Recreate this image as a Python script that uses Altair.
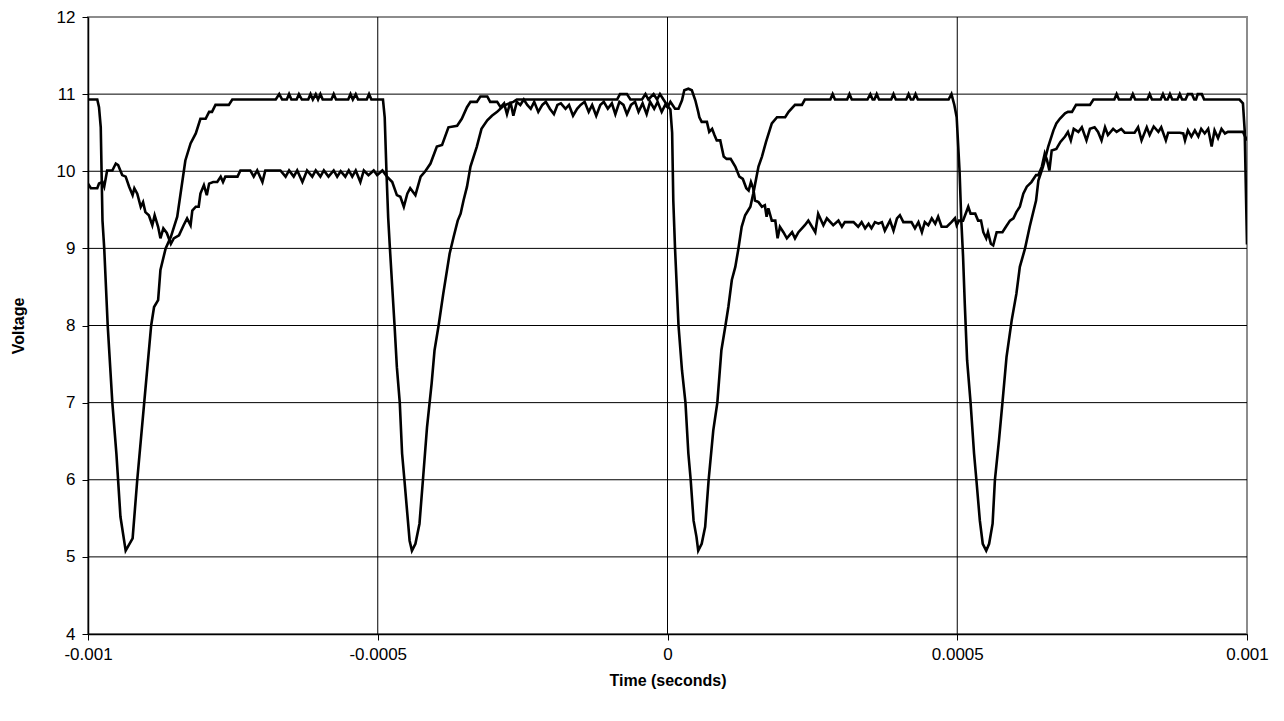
import altair as alt
import pandas as pd

# ---- Series A (deep dips to ~5 V) : time in microseconds, voltage in V ----
a_time_us = [
    -1000, -984, -981, -978, -975, -972, -966, -958, -951, -944, -935, -923, -915, -903, -891,
    -886, -879, -875, -866, -857, -846, -832, -823, -814, -806, -797, -791, -786, -780, -757,
    -751, -676, -670, -665, -657, -653, -649, -640, -636, -631, -620, -616, -612, -607, -603,
    -599, -595, -580, -576, -572, -551, -547, -543, -538, -534, -519, -515, -511, -491, -488,
    -485, -482, -479, -471, -467, -462, -458, -454, -449, -445, -441, -435, -428, -422, -415,
    -407, -402, -395, -387, -376, -369, -362, -357, -352, -346, -340, -329, -321, -311, -303,
    -294, -283, -266, -260, -87, -82, -70, -64, -44, -38, -33, -24, -18, -13, -7,
    0, 5, 8, 10, 13, 19, 25, 31, 36, 40, 45, 50, 53, 59, 65,
    71, 79, 86, 93, 100, 105, 111, 117, 122, 128, 134, 143, 148, 157, 163,
    170, 177, 180, 189, 203, 209, 220, 232, 237, 281, 285, 289, 310, 314, 318,
    345, 350, 354, 357, 361, 365, 386, 390, 394, 412, 416, 420, 424, 428, 432,
    485, 490, 495, 499, 504, 507, 510, 513, 517, 523, 529, 533, 539, 544, 550,
    555, 561, 565, 572, 578, 585, 594, 602, 608, 617, 625, 636, 640, 648, 657,
    666, 671, 677, 686, 691, 698, 705, 729, 735, 771, 775, 779, 799, 803, 807,
    828, 832, 836, 851, 855, 859, 863, 867, 871, 880, 884, 888, 894, 898, 905,
    909, 912, 915, 922, 926, 987, 993, 996, 1000,
]
a_volt = [
    10.93, 10.93, 10.83, 10.57, 9.36, 9.0, 8.0, 7.0, 6.34, 5.52, 5.08, 5.24, 6.0, 7.0, 8.0,
    8.24, 8.33, 8.72, 9.0, 9.15, 9.41, 10.14, 10.36, 10.49, 10.68, 10.68, 10.77, 10.77, 10.86, 10.86,
    10.93, 10.93, 11.0, 10.93, 10.93, 11.0, 10.93, 10.93, 11.0, 10.93, 10.93, 11.0, 10.93, 11.0, 10.93,
    11.0, 10.93, 10.93, 11.0, 10.93, 10.93, 11.0, 10.93, 11.0, 10.93, 10.93, 11.0, 10.93, 10.93, 10.7,
    10.0, 9.4, 9.0, 8.0, 7.46, 7.0, 6.34, 6.0, 5.56, 5.21, 5.08, 5.17, 5.43, 6.0, 6.68,
    7.25, 7.68, 8.0, 8.41, 8.93, 9.15, 9.36, 9.45, 9.62, 9.8, 10.06, 10.32, 10.55, 10.66, 10.72,
    10.77, 10.85, 10.9, 10.93, 10.93, 11.0, 11.0, 10.93, 10.93, 11.0, 10.93, 11.0, 10.93, 11.0, 10.93,
    10.85, 10.8, 10.5, 9.62, 9.0, 8.0, 7.42, 7.0, 6.34, 6.0, 5.47, 5.26, 5.08, 5.17, 5.39,
    6.0, 6.64, 7.0, 7.68, 8.0, 8.24, 8.59, 8.76, 8.98, 9.28, 9.43, 9.54, 9.71, 10.06, 10.19,
    10.38, 10.55, 10.62, 10.7, 10.7, 10.77, 10.86, 10.86, 10.93, 10.93, 11.0, 10.93, 10.93, 11.0, 10.93,
    10.93, 11.0, 10.93, 10.93, 11.0, 10.93, 10.93, 11.0, 10.93, 10.93, 11.0, 10.93, 10.93, 11.0, 10.93,
    10.93, 11.0, 10.86, 10.7, 10.0, 9.36, 8.9, 8.28, 7.55, 7.0, 6.34, 6.0, 5.47, 5.17, 5.08,
    5.17, 5.43, 6.0, 6.51, 7.0, 7.59, 8.07, 8.41, 8.76, 9.0, 9.28, 9.62, 9.88, 10.06, 10.32,
    10.53, 10.62, 10.68, 10.75, 10.77, 10.77, 10.86, 10.86, 10.93, 10.93, 11.0, 10.93, 10.93, 11.0, 10.93,
    10.93, 11.0, 10.93, 10.93, 11.0, 10.93, 10.93, 11.0, 10.93, 10.93, 11.0, 10.93, 10.93, 11.0, 11.0,
    10.93, 10.93, 11.0, 11.0, 10.93, 10.93, 10.88, 10.53, 9.05,
]

# ---- Series B (shallow dips, varying plateau) ----
b_time_us = [
    -1000, -995, -984, -981, -975, -972, -967, -958, -952, -948, -941, -935, -929, -923, -920,
    -915, -909, -905, -901, -895, -889, -885, -879, -875, -870, -864, -857, -852, -843, -835,
    -829, -823, -820, -814, -809, -806, -800, -795, -791, -784, -777, -771, -767, -763, -742,
    -737, -720, -714, -708, -699, -694, -668, -659, -653, -645, -639, -630, -622, -613, -607,
    -599, -593, -585, -576, -570, -564, -556, -550, -544, -538, -530, -524, -516, -507, -501,
    -492, -484, -475, -467, -461, -455, -449, -444, -435, -426, -418, -409, -398, -389, -378,
    -363, -355, -346, -340, -329, -323, -311, -306, -294, -288, -282, -277, -271, -266, -260,
    -254, -248, -242, -236, -230, -223, -216, -210, -203, -196, -190, -184, -176, -170, -163,
    -156, -150, -143, -136, -130, -123, -116, -110, -103, -96, -90, -83, -76, -70, -63,
    -56, -50, -43, -36, -30, -23, -17, -10, -4, 0, 5, 13, 19, 25, 29,
    36, 42, 48, 53, 55, 59, 68, 72, 77, 81, 85, 91, 97, 102, 109,
    117, 124, 130, 136, 140, 144, 148, 151, 157, 163, 168, 171, 174, 180, 186,
    190, 194, 200, 206, 215, 220, 226, 232, 237, 243, 255, 260, 269, 275, 286,
    295, 301, 306, 321, 329, 335, 341, 347, 352, 358, 364, 370, 375, 384, 390,
    396, 401, 407, 421, 427, 433, 439, 444, 450, 456, 462, 467, 473, 482, 490,
    496, 499, 503, 510, 519, 523, 531, 536, 541, 545, 550, 553, 558, 562, 568,
    578, 584, 591, 597, 602, 608, 614, 620, 628, 636, 640, 646, 651, 655, 659,
    663, 671, 678, 686, 691, 696, 701, 709, 715, 723, 729, 737, 743, 749, 755,
    760, 769, 775, 783, 789, 806, 812, 818, 827, 832, 839, 847, 852, 860, 864,
    884, 890, 893, 898, 904, 910, 916, 921, 927, 933, 939, 944, 950, 956, 962,
    967, 993, 1000,
]
b_volt = [
    9.84, 9.78, 9.78, 9.84, 9.86, 9.8, 10.01, 10.01, 10.1, 10.08, 9.95, 9.93, 9.8, 9.69, 9.78,
    9.71, 9.54, 9.6, 9.47, 9.43, 9.3, 9.43, 9.28, 9.13, 9.26, 9.2, 9.06, 9.13, 9.17, 9.3,
    9.39, 9.3, 9.49, 9.54, 9.54, 9.71, 9.82, 9.69, 9.84, 9.86, 9.86, 9.93, 9.86, 9.93, 9.93,
    10.01, 10.01, 9.93, 10.01, 9.86, 10.01, 10.01, 9.93, 10.01, 9.93, 10.01, 9.86, 10.01, 9.93, 10.01,
    9.93, 10.01, 9.93, 10.01, 9.93, 10.0, 9.93, 10.01, 9.93, 10.01, 9.86, 10.01, 9.95, 10.01, 9.95,
    10.01, 9.93, 9.86, 9.69, 9.67, 9.54, 9.71, 9.78, 9.69, 9.93, 10.0, 10.1, 10.32, 10.34, 10.57,
    10.59, 10.68, 10.83, 10.9, 10.9, 10.97, 10.97, 10.9, 10.9, 10.83, 10.88, 10.74, 10.9, 10.72, 10.9,
    10.86, 10.93, 10.86, 10.81, 10.9, 10.77, 10.86, 10.9, 10.81, 10.74, 10.86, 10.88, 10.81, 10.86, 10.72,
    10.81, 10.86, 10.9, 10.77, 10.86, 10.72, 10.86, 10.9, 10.81, 10.88, 10.74, 10.9, 10.86, 10.74, 10.86,
    10.9, 10.77, 10.88, 10.74, 10.9, 10.81, 10.9, 10.77, 10.86, 10.83, 10.9, 10.81, 10.81, 10.92, 11.05,
    11.07, 11.05, 10.92, 10.77, 10.7, 10.64, 10.64, 10.51, 10.55, 10.47, 10.4, 10.4, 10.19, 10.16, 10.16,
    10.06, 9.93, 9.9, 9.78, 9.75, 9.86, 9.78, 9.62, 9.6, 9.54, 9.56, 9.41, 9.52, 9.36, 9.36,
    9.13, 9.28, 9.21, 9.13, 9.21, 9.13, 9.21, 9.26, 9.3, 9.36, 9.21, 9.45, 9.3, 9.39, 9.3,
    9.36, 9.28, 9.34, 9.34, 9.28, 9.34, 9.26, 9.32, 9.26, 9.34, 9.32, 9.34, 9.23, 9.36, 9.23,
    9.39, 9.43, 9.34, 9.34, 9.26, 9.34, 9.21, 9.34, 9.3, 9.39, 9.32, 9.41, 9.28, 9.28, 9.34,
    9.39, 9.3, 9.36, 9.36, 9.54, 9.45, 9.45, 9.36, 9.36, 9.21, 9.13, 9.21, 9.06, 9.04, 9.21,
    9.21, 9.28, 9.36, 9.39, 9.47, 9.54, 9.71, 9.8, 9.86, 9.95, 9.95, 10.06, 10.23, 10.14, 10.01,
    10.27, 10.29, 10.38, 10.45, 10.51, 10.4, 10.55, 10.51, 10.57, 10.4, 10.55, 10.57, 10.51, 10.4, 10.57,
    10.47, 10.55, 10.51, 10.55, 10.5, 10.5, 10.57, 10.4, 10.57, 10.47, 10.58, 10.51, 10.57, 10.4, 10.5,
    10.5, 10.49, 10.4, 10.53, 10.45, 10.53, 10.45, 10.55, 10.49, 10.55, 10.32, 10.53, 10.43, 10.55, 10.49,
    10.51, 10.51, 10.4,
]

x_ticks = [-0.001, -0.0005, 0, 0.0005, 0.001]
y_ticks = [4, 5, 6, 7, 8, 9, 10, 11, 12]
x_grid = [-0.0005, 0, 0.0005]
y_grid = [5, 6, 7, 8, 9, 10, 11]

rows = []
for name, ts, vs in (("A", a_time_us, a_volt), ("B", b_time_us, b_volt)):
    for i, (t, v) in enumerate(zip(ts, vs)):
        rows.append({"t": t / 1e6, "v": v, "series": name, "i": i})
df = pd.DataFrame(rows)

FONT = "Liberation Sans"
xscale = alt.Scale(domain=[-0.001, 0.001], nice=False, zero=False)
yscale = alt.Scale(domain=[4, 12], nice=False, zero=False)

x_axis = alt.Axis(
    values=x_ticks,
    title="Time (seconds)",
    labelExpr="'' + datum.value",
    grid=False,
    domainColor="black",
    domainWidth=1.5,
    tickColor="black",
    tickSize=6,
    labelPadding=6,
    labelFont=FONT,
    labelFontSize=17,
    labelColor="black",
    labelFlush=False,
    titleFont=FONT,
    titleFontSize=16,
    titleFontWeight="bold",
    titleColor="black",
    titlePadding=10,
)
y_axis = alt.Axis(
    values=y_ticks,
    title="Voltage",
    grid=False,
    domainColor="black",
    domainWidth=1.5,
    tickColor="black",
    tickSize=6,
    labelPadding=7,
    labelFont=FONT,
    labelFontSize=17,
    labelColor="black",
    titleFont=FONT,
    titleFontSize=16,
    titleFontWeight="bold",
    titleColor="black",
    titlePadding=30,
)

lines = alt.Chart(df).mark_line(color="black", strokeWidth=2.6, clip=True).encode(
    x=alt.X("t:Q", scale=xscale, axis=x_axis),
    y=alt.Y("v:Q", scale=yscale, axis=y_axis),
    detail="series:N",
    order="i:Q",
)

vgrid = alt.Chart(pd.DataFrame({"g": x_grid})).mark_rule(color="black", strokeWidth=1).encode(
    x=alt.X("g:Q", scale=xscale, axis=x_axis)
)
hgrid = alt.Chart(pd.DataFrame({"g": y_grid})).mark_rule(color="black", strokeWidth=1).encode(
    y=alt.Y("g:Q", scale=yscale, axis=y_axis)
)

chart = (
    alt.layer(vgrid, hgrid, lines)
    .properties(
        width=1159,
        height=617,
        padding={"left": 88, "top": 17, "right": 37, "bottom": 87},
        autosize="none",
        background="white",
    )
    .configure_view(stroke="#8c8c8c", strokeWidth=2)
)

chart.save("out.html", embed_options={"renderer": "svg", "actions": False})
